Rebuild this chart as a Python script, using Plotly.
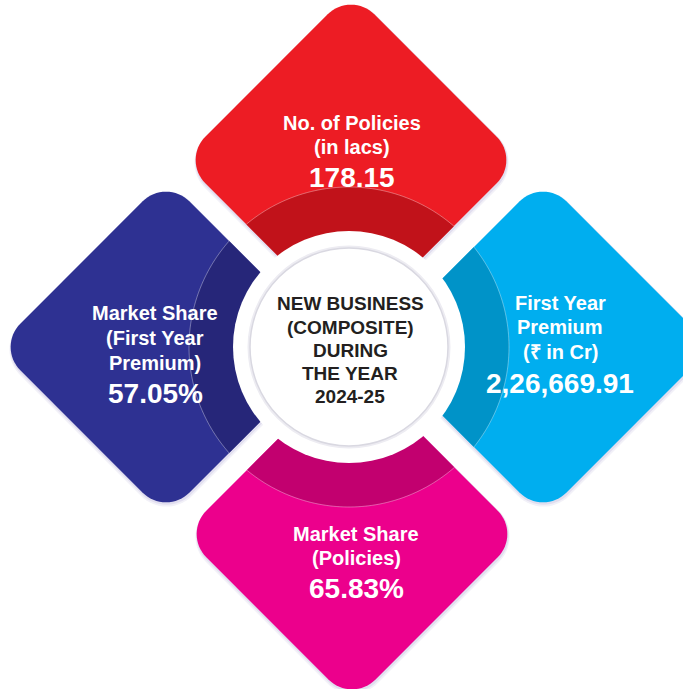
import math
import plotly.graph_objects as go

# ---------------- data ----------------
quadrant_labels = [
    ["No. of Policies", "(in lacs)"],
    ["First Year", "Premium", "(₹ in Cr)"],
    ["Market Share", "(Policies)"],
    ["Market Share", "(First Year", "Premium)"],
]
quadrant_values = ["178.15", "2,26,669.91", "65.83%", "57.05%"]
center_lines = ["NEW BUSINESS", "(COMPOSITE)", "DURING", "THE YEAR", "2024-25"]

# ---------------- styles / layout ----------------
W, H = 683, 689
C = (349, 347)
diamond_centers = [(351, 160), (543, 347), (352, 534), (166, 347)]
fill_colors = ["#ED1C24", "#00AEEF", "#EC008C", "#2E3192"]
band_colors = ["#C1121A", "#0093C8", "#C2006F", "#262679"]
D, RC = 169, 33
R_BAND, R_GAP, R_CIRC = 160, 116, 99

label_pos = [  # x, label line ys, value y
    (352, [123, 147], 177),
    (560, [303, 327, 352], 383),
    (356, [534, 558], 588),
    (155, [313, 338, 363], 393),
]
center_ys = [303, 327, 350, 373, 396]
FONT = "Liberation Sans, Arial, Helvetica, sans-serif"


def rounded_diamond(cx, cy, d, r, n=16):
    inner = d - r * math.sqrt(2)
    verts = [(cx, cy - inner, 225), (cx + inner, cy, 315), (cx, cy + inner, 45), (cx - inner, cy, 135)]
    pts = []
    for vx, vy, a0 in verts:
        for k in range(n + 1):
            a = math.radians(a0 + 90 * k / n)
            pts.append((vx + r * math.cos(a), vy + r * math.sin(a)))
    return pts


def circle_poly(cx, cy, r, n=360):
    return [(cx + r * math.cos(2 * math.pi * k / n), cy + r * math.sin(2 * math.pi * k / n)) for k in range(n)]


def clip(subject, clipper):
    # Sutherland-Hodgman; both convex
    def area(p):
        return sum(p[i][0] * p[(i + 1) % len(p)][1] - p[(i + 1) % len(p)][0] * p[i][1] for i in range(len(p)))
    sgn = 1 if area(clipper) > 0 else -1
    out = subject
    for i in range(len(clipper)):
        a, b = clipper[i], clipper[(i + 1) % len(clipper)]
        def inside(p):
            return sgn * ((b[0] - a[0]) * (p[1] - a[1]) - (b[1] - a[1]) * (p[0] - a[0])) >= 0
        def inter(p, q):
            x1, y1 = p; x2, y2 = q; x3, y3 = a; x4, y4 = b
            den = (x1 - x2) * (y3 - y4) - (y1 - y2) * (x3 - x4)
            t = ((x1 - x3) * (y3 - y4) - (y1 - y3) * (x3 - x4)) / den
            return (x1 + t * (x2 - x1), y1 + t * (y2 - y1))
        inp = out
        out = []
        if not inp:
            break
        s = inp[-1]
        for e in inp:
            if inside(e):
                if not inside(s):
                    out.append(inter(s, e))
                out.append(e)
            elif inside(s):
                out.append(inter(s, e))
            s = e
    return out


def path_of(pts, close=True):
    p = "M " + " L ".join(f"{x:.2f},{y:.2f}" for x, y in pts)
    return p + (" Z" if close else "")


shapes = []
# shadows
for (cx, cy) in diamond_centers:
    shapes.append(dict(type="path", path=path_of(rounded_diamond(cx + 0.5, cy + 2.5, D + 3, RC + 3)),
                       fillcolor="rgba(150,140,200,0.12)", line=dict(width=0), layer="below"))
    shapes.append(dict(type="path", path=path_of(rounded_diamond(cx + 0.5, cy + 1.5, D + 1.5, RC + 1.5)),
                       fillcolor="rgba(150,140,200,0.18)", line=dict(width=0), layer="below"))
# diamonds + bands
disk = circle_poly(C[0], C[1], R_BAND)
for (cx, cy), fc, bc in zip(diamond_centers, fill_colors, band_colors):
    dpts = rounded_diamond(cx, cy, D, RC)
    shapes.append(dict(type="path", path=path_of(dpts), fillcolor=fc, line=dict(width=0), layer="below"))
    band = clip(dpts, disk)
    shapes.append(dict(type="path", path=path_of(band), fillcolor=bc, line=dict(width=0), layer="below"))
    # thin light arc at outer edge of band
    arc = [p for p in clip(dpts, circle_poly(C[0], C[1], R_BAND, 720))
           if abs(math.hypot(p[0] - C[0], p[1] - C[1]) - R_BAND) < 0.6]
    arc.sort(key=lambda p: math.atan2(p[1] - C[1], p[0] - C[0]) % (2 * math.pi)
             if (cx - C[0]) < -50 else math.atan2(p[1] - C[1], p[0] - C[0]))
    if len(arc) > 1:
        shapes.append(dict(type="path", path=path_of(arc, close=False),
                           line=dict(color="rgba(255,255,255,0.45)", width=0.8), layer="below"))
# white gap disk and centre circle
shapes.append(dict(type="circle", xref="x", yref="y", x0=C[0] - R_GAP, x1=C[0] + R_GAP,
                   y0=C[1] - R_GAP, y1=C[1] + R_GAP, fillcolor="white", line=dict(width=0), layer="below"))
shapes.append(dict(type="circle", xref="x", yref="y", x0=C[0] - R_CIRC - 2.5, x1=C[0] + R_CIRC + 2.5,
                   y0=C[1] - R_CIRC - 2.5, y1=C[1] + R_CIRC + 2.5, fillcolor="#EDECF2", line=dict(width=0), layer="below"))
shapes.append(dict(type="circle", xref="x", yref="y", x0=C[0] - R_CIRC, x1=C[0] + R_CIRC,
                   y0=C[1] - R_CIRC, y1=C[1] + R_CIRC, fillcolor="white",
                   line=dict(color="#D9D8E1", width=1.5), layer="below"))

annotations = []
for lines, val, (x, ys, vy) in zip(quadrant_labels, quadrant_values, label_pos):
    for t, y in zip(lines, ys):
        annotations.append(dict(x=x, y=y, text=f"<b>{t}</b>", showarrow=False, xanchor="center", yanchor="middle",
                                font=dict(family=FONT, size=20, color="white")))
    annotations.append(dict(x=x, y=vy, text=f"<b>{val}</b>", showarrow=False, xanchor="center", yanchor="middle",
                            font=dict(family=FONT, size=28, color="white")))
for t, y in zip(center_lines, center_ys):
    annotations.append(dict(x=350, y=y, text=f"<b>{t}</b>", showarrow=False, xanchor="center", yanchor="middle",
                            font=dict(family=FONT, size=19, color="#231F20")))

fig = go.Figure()
fig.add_trace(go.Scatter(x=[0, W], y=[0, H], mode="markers", marker=dict(opacity=0), hoverinfo="skip",
                         showlegend=False))
fig.update_layout(
    width=W, height=H, margin=dict(l=0, r=0, t=0, b=0),
    paper_bgcolor="white", plot_bgcolor="white",
    xaxis=dict(range=[0, W], visible=False, fixedrange=True),
    yaxis=dict(range=[H, 0], visible=False, fixedrange=True),
    shapes=shapes, annotations=annotations, showlegend=False,
)
fig.write_html("out.html", config={"displayModeBar": False},
               post_script="document.body.style.margin='0';document.body.style.overflow='hidden';")
